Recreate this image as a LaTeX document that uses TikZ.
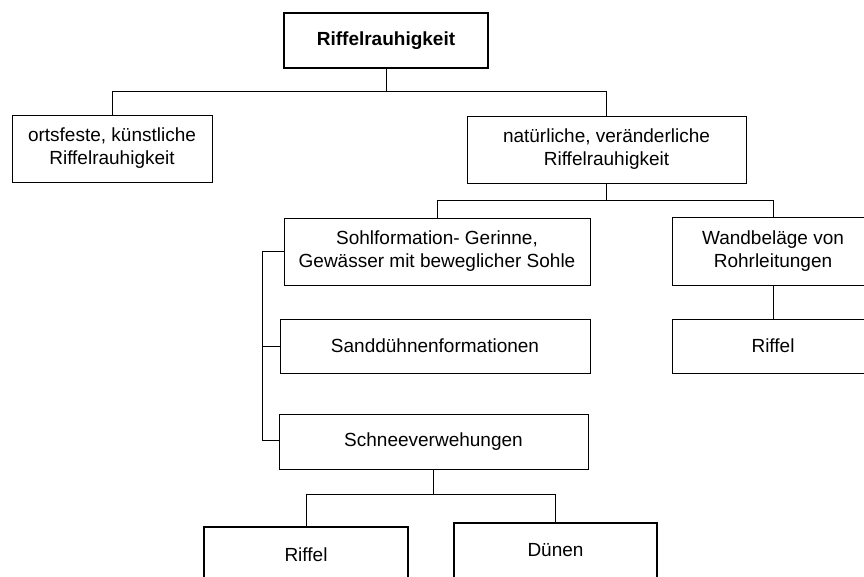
\documentclass[tikz,border=0pt]{standalone}
\usepackage{fontspec}
\setmainfont{Liberation Sans}
\usepackage{tikz}
\usetikzlibrary{calc, positioning}

\begin{document}
\begin{tikzpicture}[x=1pt, y=-1pt,
    box/.style={draw, line width=0.9pt, align=center, inner sep=0pt,
        font=\fontsize{19}{23}\selectfont},
    thickbox/.style={box, line width=1.7pt},
    link/.style={line width=0.9pt}]
    \useasboundingbox (0,0) rectangle (864,576);

    % Draw the boxes of the tree
    \node[thickbox, minimum width=204, minimum height=55, font=\fontsize{19}{23}\selectfont\bfseries]
        (root) at (386,40.5) {Riffelrauhigkeit};
    \node[box, minimum width=200, minimum height=67] (fixed) at (112,148.5)
        {ortsfeste, künstliche\\Riffelrauhigkeit};
    \node[box, minimum width=279, minimum height=67] (natural) at (606.5,149.5)
        {natürliche, veränderliche\\Riffelrauhigkeit};
    \node[box, minimum width=306, minimum height=67] (bed) at (437,251.5)
        {Sohlformation- Gerinne,\\Gewässer mit beweglicher Sohle};
    \node[box, minimum width=310, minimum height=54] (sand) at (435,346)
        {Sanddühnenformationen};
    \node[box, minimum width=309, minimum height=55] (snow) at (433.5,441.5)
        {Schneeverwehungen};
    \node[box, minimum width=202, minimum height=68] (pipe) at (773,251)
        {Wandbeläge von\\Rohrleitungen};
    \node[box, minimum width=202, minimum height=54] (piperipple) at (773,346)
        {Riffel};
    \node[thickbox, minimum width=204, minimum height=55] (ripple) at (306,554.5)
        {Riffel};
    \node[thickbox, minimum width=203, minimum height=55] (dune) at (555.5,550.5)
        {Dünen};

    % Junction points of the buses
    \coordinate (rootbus) at ($(root.south)+(0,23)$);
    \coordinate (natbus) at ($(natural.south)+(0,17)$);
    \coordinate (leftbus) at ($(bed.west)+(-21,0)$);
    \coordinate (snowbus) at ($(snow.south)+(0,25)$);

    % Draw connectors
    \draw[link] (root.south) -- (rootbus);
    \draw[link] (fixed.north) |- (rootbus) -| (natural.north);
    \draw[link] (natural.south) -- (natbus);
    \draw[link] (bed.north) |- (natbus) -| (pipe.north);
    \draw[link] (pipe.south) -- (piperipple.north);
    \draw[link] (bed.west) -- (leftbus) |- ($(snow.west)+(0,-1.5)$);
    \draw[link] (sand.west) -- (sand.west -| leftbus);
    \draw[link] (snow.south) -- (snowbus);
    \draw[link] (ripple.north) |- (snowbus) -| (dune.north);
\end{tikzpicture}
\end{document}
